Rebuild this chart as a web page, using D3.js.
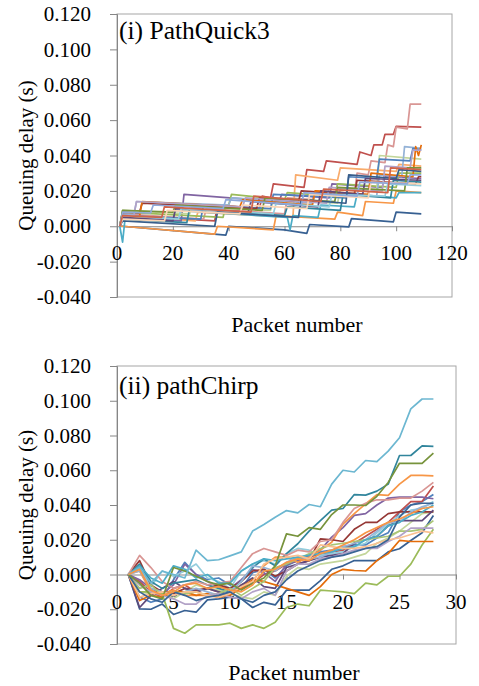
<!DOCTYPE html>
<html>
<head>
<meta charset="UTF-8">
<script src="https://cdn.jsdelivr.net/npm/d3@7"></script>
<style>
  html, body { margin: 0; padding: 0; background: #fff; }
  svg { display: block; }
  text { font-family: "Liberation Serif" !important; }
</style>
</head>
<body>
<svg id="chart" width="479" height="686"></svg>
<script>
// y axis, shared by both panels
const yTicks = [-0.04, -0.02, 0, 0.02, 0.04, 0.06, 0.08, 0.1, 0.12];
const yTickLabels = ["-0.040", "-0.020", "0.000", "0.020", "0.040", "0.060", "0.080", "0.100", "0.120"];

// (i) PathQuick3 : x ticks and series (vertices of each step line)
const pqXTicks = [0, 20, 40, 60, 80, 100, 120];
const pqColors = ["#376092", "#C0504D", "#D99694", "#F9AB6B", "#F79646", "#4BACC6", "#8064A2", "#9BBB59",
                  "#C3D69B", "#95B3D7", "#4F81BD", "#953735", "#E46C0A", "#B2A2C7", "#31859C", "#5F497A",
                  "#77933C", "#93CDDD", "#385D8A", "#FCD5B5", "#8EA9DB", "#D16349"];
const pqSeries = [
  [[1,0],[2,0],[39,-0.005],[40,0],[60,-0.002],[68,-0.004],[69,0.001],[83,-0.0004],[84,0.0043],[99,0.0025],[100,0.008],[109,0.007]],
  [[1,0],[2,0.006],[35,0.003],[36,0.012],[51,0.010],[52,0.017],[55,0.016],[56,0.024],[67,0.022],[68,0.032],[74,0.031],[75,0.037],[86,0.035],[87,0.042],[91,0.040],[92,0.046],[95,0.046],[96,0.052],[99,0.052],[100,0.0565],[109,0.056]],
  [[1,0],[2,0.007],[31,0.004],[32,0.010],[60,0.007],[61,0.016],[70,0.015],[71,0.020],[85,0.018],[86,0.030],[90,0.029],[91,0.037],[96,0.036],[97,0.046],[99,0.045],[100,0.056],[104,0.055],[105,0.069],[109,0.069]],
  [[1,0],[2,0.006],[28,0.003],[29,0.008],[63,0.005],[64,0.029],[79,0.026],[80,0.033],[100,0.031],[101,0.035],[109,0.034]],
  [[1,0],[2,0],[35,-0.0045],[36,0],[56,-0.002],[57,0.006],[78,0.004],[79,0.008],[88,0.006],[89,0.014],[99,0.013],[100,0.020],[109,0.019]],
  [[1,0],[2,-0.009],[3,0.006],[20,0.004],[21,0.009],[61,0.005],[62,-0.002],[63,0.006],[72,0.005],[73,0.012],[85,0.011],[86,0.018],[100,0.016],[101,0.019],[109,0.019]],
  [[1,0],[2,0.005],[23,0.003],[24,0.018],[58,0.014],[59,0.018],[76,0.016],[77,0.024],[95,0.022],[96,0.028],[109,0.027]],
  [[1,0],[2,0.008],[38,0.005],[39,0.012],[40,0.012],[41,0.018],[60,0.015],[61,0.019],[78,0.017],[79,0.024],[100,0.022],[101,0.030],[109,0.030]],
  [[1,0],[2,0.009],[26,0.007],[27,0.011],[55,0.009],[56,0.015],[79,0.013],[80,0.021],[93,0.020],[94,0.040],[109,0.038]],
  [[1,0],[2,0.007],[6,0.0065],[7,0.014],[40,0.012],[41,0.016],[70,0.013],[71,0.019],[93,0.017],[94,0.029],[102,0.028],[103,0.045],[109,0.044]],
  [[1,0],[2,0.006],[30,0.004],[31,0.012],[55,0.010],[56,0.018],[82,0.016],[83,0.028],[93,0.027],[94,0.038],[105,0.037],[106,0.044],[109,0.043]],
  [[1,0],[2,0.008],[8,0.0075],[9,0.013],[50,0.010],[51,0.016],[65,0.014],[66,0.020],[85,0.018],[86,0.026],[107,0.024],[108,0.028],[109,0.028]],
  [[1,0],[2,0.005],[8,0.005],[9,0.014],[44,0.011],[45,0.015],[70,0.012],[71,0.020],[90,0.018],[91,0.030],[106,0.028],[107,0.045],[108,0.040],[109,0.046]],
  [[1,0],[2,0.006],[6,0.006],[7,0.014],[45,0.011],[46,0.016],[75,0.013],[76,0.022],[95,0.020],[96,0.034],[105,0.033],[106,0.043],[109,0.043]],
  [[1,0],[2,0.004],[25,0.002],[26,0.010],[60,0.006],[61,0.011],[80,0.009],[81,0.018],[98,0.016],[99,0.026],[109,0.025]],
  [[1,0],[2,0.005],[20,0.003],[21,0.010],[47,0.008],[48,0.014],[72,0.011],[73,0.020],[88,0.018],[89,0.027],[109,0.026]],
  [[1,0],[2,0.009],[20,0.008],[21,0.012],[52,0.009],[53,0.016],[78,0.014],[79,0.022],[103,0.020],[104,0.033],[109,0.033]],
  [[1,0],[2,0.006],[22,0.004],[23,0.010],[56,0.007],[57,0.013],[76,0.011],[77,0.018],[96,0.017],[97,0.024],[109,0.023]],
  [[1,0],[2,0.003],[35,0.000],[36,0.008],[65,0.005],[66,0.015],[82,0.013],[83,0.029],[100,0.027],[101,0.032],[109,0.031]],
  [[1,0],[2,0.004],[17,0.003],[18,0.009],[44,0.007],[45,0.012],[68,0.010],[69,0.018],[90,0.016],[91,0.025],[109,0.024]],
  [[1,0],[2,0.008],[12,0.0075],[13,0.012],[38,0.010],[39,0.015],[66,0.012],[67,0.019],[86,0.017],[87,0.025],[104,0.024],[105,0.029],[109,0.029]],
  [[1,0],[2,0.006],[16,0.005],[17,0.011],[48,0.008],[49,0.017],[73,0.014],[74,0.021],[97,0.019],[98,0.033],[109,0.032]]
];

// (ii) pathChirp : x ticks, packet numbers and one delay value per packet
const pcXTicks = [0, 5, 10, 15, 20, 25, 30];
const pcPackets = [1,2,3,4,5,6,7,8,9,10,11,12,13,14,15,16,17,18,19,20,21,22,23,24,25,26,27,28];
const pcColors = ["#4F81BD", "#C0504D", "#C3D69B", "#8064A2", "#93CDDD", "#F79646", "#376092", "#953735",
                  "#9BBB59", "#5F497A", "#31859C", "#E46C0A", "#95B3D7", "#D99694", "#A9C574", "#B2A2C7",
                  "#4BACC6", "#FAC090", "#3A6595", "#77933C", "#6CB7D1", "#F79646"];
const pcSeries = [
  [0,-0.013,-0.016,-0.014,-0.003,0.007,0.000,-0.003,-0.002,-0.006,-0.008,0.001,0.003,-0.002,0.005,0.008,0.010,0.013,0.014,0.016,0.017,0.017,0.021,0.024,0.036,0.040,0.042,0.046],
  [0,-0.004,-0.010,-0.013,-0.008,-0.006,-0.010,-0.008,-0.010,-0.011,-0.008,-0.005,0.000,0.002,0.006,0.008,0.010,0.012,0.013,0.014,0.018,0.022,0.026,0.030,0.036,0.042,0.042,0.051],
  [0,-0.010,-0.011,-0.010,-0.014,-0.010,-0.006,-0.008,-0.009,-0.011,-0.013,-0.014,-0.010,-0.012,-0.001,0.004,0.003,0.006,0.007,0.008,0.010,0.012,0.018,0.021,0.025,0.030,0.035,0.036],
  [0,-0.003,-0.008,-0.011,-0.006,0.006,0.000,-0.004,-0.007,-0.008,-0.003,0.003,0.001,-0.004,0.006,0.008,0.011,0.014,0.0215,0.027,0.034,0.035,0.040,0.044,0.0445,0.0445,0.0445,0.0436],
  [0,0.004,-0.007,0.002,-0.001,0.002,0.006,-0.002,-0.004,-0.008,0.002,0.006,0.008,0.006,0.012,0.015,0.014,0.011,0.012,0.013,0.016,0.018,0.024,0.029,0.034,0.037,0.038,0.042],
  [0,0.002,-0.010,-0.011,-0.009,-0.012,-0.012,-0.012,-0.013,-0.010,-0.006,-0.004,0.005,0.010,0.010,0.007,0.010,0.014,0.0186,0.029,0.035,0.0407,0.046,0.0455,0.052,0.057,0.057,0.0568],
  [0,-0.0198,-0.020,-0.017,-0.023,-0.0207,-0.0217,-0.0146,-0.014,-0.013,-0.014,-0.019,-0.016,-0.0175,-0.009,-0.009,-0.009,-0.0035,0.003,0.005,0.008,0.008,0.008,0.013,0.0148,0.0196,0.024,0.034],
  [0,0.008,-0.006,-0.010,-0.011,-0.008,-0.009,-0.008,-0.006,-0.008,-0.004,0.002,0.003,-0.001,0.002,0.006,0.008,0.0205,0.020,0.019,0.026,0.030,0.030,0.035,0.036,0.036,0.036,0.036],
  [0,-0.010,-0.010,-0.011,-0.031,-0.0338,-0.029,-0.029,-0.029,-0.028,-0.031,-0.029,-0.031,-0.0275,-0.019,-0.017,-0.018,-0.009,-0.0095,-0.010,-0.011,-0.005,-0.006,-0.001,-0.001,0.006,0.017,0.026],
  [0,-0.019,-0.012,-0.008,-0.004,-0.008,-0.010,-0.008,-0.010,-0.012,-0.006,-0.002,-0.007,-0.008,0.004,0.006,0.008,0.010,0.011,0.012,0.018,0.020,0.022,0.028,0.031,0.031,0.031,0.037],
  [0,0.006,-0.004,-0.008,-0.005,-0.004,-0.003,-0.006,-0.008,-0.010,-0.004,0.004,0.009,0.005,0.012,0.0177,0.025,0.031,0.037,0.038,0.046,0.0457,0.048,0.052,0.0685,0.0685,0.074,0.0737],
  [0,-0.015,-0.012,-0.013,-0.010,-0.010,-0.012,-0.011,-0.013,-0.012,-0.008,-0.003,-0.004,-0.006,-0.008,-0.010,-0.012,-0.007,0.000,0.003,0.0023,0.002,0.008,0.012,0.0196,0.019,0.019,0.019],
  [0,0.002,-0.008,-0.010,-0.012,-0.010,-0.008,-0.010,-0.012,-0.010,-0.004,0.005,0.004,0.002,0.007,0.010,0.009,0.010,0.013,0.016,0.018,0.020,0.025,0.030,0.030,0.036,0.039,0.041],
  [0,0.011,0.004,-0.004,-0.008,-0.006,-0.004,-0.006,-0.005,-0.004,0.004,0.012,0.015,0.013,0.011,0.014,0.013,0.019,0.020,0.030,0.038,0.041,0.043,0.043,0.044,0.044,0.048,0.053],
  [0,-0.008,-0.006,-0.012,-0.010,-0.011,-0.010,-0.012,-0.011,-0.008,-0.012,-0.008,-0.004,0.004,0.006,0.009,0.012,0.015,0.017,0.018,0.019,0.020,0.021,0.022,0.025,0.025,0.026,0.031],
  [0,-0.006,-0.010,-0.012,-0.014,-0.017,-0.017,-0.012,-0.011,-0.013,-0.014,-0.010,-0.008,-0.012,0.002,0.006,0.006,0.009,0.010,0.012,0.014,0.015,0.015,0.019,0.022,0.0267,0.0267,0.0267],
  [0,0.005,-0.002,-0.005,0.005,0.003,-0.002,0.000,-0.005,-0.005,0.002,0.006,0.009,0.008,0.009,0.010,0.011,0.012,0.013,0.015,0.016,0.020,0.022,0.028,0.030,0.034,0.036,0.040],
  [0,-0.013,-0.011,-0.010,-0.012,-0.010,-0.010,-0.012,-0.013,-0.011,-0.007,-0.004,0.006,0.009,0.010,0.011,0.009,0.017,0.016,0.015,0.015,0.016,0.018,0.020,0.021,0.023,0.025,0.024],
  [0,-0.010,-0.014,-0.016,-0.010,-0.012,-0.015,-0.013,-0.012,-0.010,-0.014,-0.016,-0.012,-0.010,-0.003,0.002,0.005,0.008,0.010,0.011,0.013,0.015,0.016,0.020,0.033,0.040,0.041,0.041],
  [0,-0.005,-0.012,-0.014,0.004,0.002,-0.001,-0.004,-0.006,-0.005,-0.009,-0.005,-0.002,0.005,0.0234,0.022,0.027,0.026,0.0345,0.040,0.040,0.0397,0.045,0.053,0.064,0.064,0.064,0.0698],
  [0,0.004,-0.005,0.002,0.000,-0.002,0.014,0.008,0.0085,0.0107,0.013,0.025,0.0288,0.033,0.0368,0.0355,0.0403,0.039,0.052,0.060,0.059,0.0656,0.065,0.071,0.0787,0.0953,0.101,0.101],
  [0,0.003,-0.009,-0.012,-0.010,-0.006,-0.005,-0.008,-0.007,-0.009,-0.010,-0.006,0.002,0.003,0.007,0.009,0.008,0.012,0.014,0.017,0.020,0.024,0.027,0.030,0.032,0.035,0.038,0.039]
];

var serifFont = "Liberation Serif";

var svg = d3.select("#chart");

function panel(opt) {
  var x = d3.scaleLinear().domain(opt.xDomain).range([opt.left, opt.right]),
      y = d3.scaleLinear().domain([-0.04, 0.12]).range([opt.bottom, opt.top]);
  var g = svg.append("g");

  // plot area border
  g.append("rect")
    .attr("x", opt.left).attr("y", opt.top)
    .attr("width", opt.right - opt.left).attr("height", opt.bottom - opt.top)
    .attr("fill", "none").attr("stroke", "#a6a6a6").attr("stroke-width", 1);

  // y axis
  var yAxis = g.append("g")
    .attr("transform", `translate(${opt.left},0)`)
    .call(d3.axisLeft(y).tickValues(yTicks).tickSize(7).tickFormat(""));
  yAxis.select(".domain").attr("stroke", "#868686");
  yAxis.selectAll(".tick line").attr("stroke", "#868686");

  g.selectAll(".ylab")
    .data(yTicks)
    .enter().append("text")
    .attr("x", opt.left - 26)
    .attr("y", d => y(d))
    .attr("dy", "0.34em")
    .attr("text-anchor", "end")
    .attr("font-family", serifFont)
    .attr("font-size", 21)
    .text((d, i) => yTickLabels[i]);

  // x axis sits on zero
  var xAxis = g.append("g")
    .attr("transform", `translate(0,${y(0)})`)
    .call(d3.axisBottom(x).tickValues(opt.xTicks).tickSize(5).tickSizeOuter(0).tickFormat(""));
  xAxis.select(".domain").attr("stroke", "#868686");
  xAxis.selectAll(".tick line").attr("stroke", "#868686");

  // x labels go under the lines, as in the original
  g.selectAll(".xlab")
    .data(opt.xTicks)
    .enter().append("text")
    .attr("x", d => x(d))
    .attr("y", y(0) + 27)
    .attr("dy", "0.34em")
    .attr("text-anchor", "middle")
    .attr("font-family", serifFont)
    .attr("font-size", 21)
    .text(d => d);

  var line = d3.line().x(d => x(d[0])).y(d => y(d[1]));

  g.selectAll(".serie")
    .data(opt.series)
    .enter().append("path")
    .attr("d", d => line(d))
    .attr("fill", "none")
    .attr("stroke", (d, i) => opt.colors[i % opt.colors.length])
    .attr("stroke-width", 1.7)
    .attr("stroke-linejoin", "round");

  g.append("text")
    .attr("x", opt.left + 2)
    .attr("y", opt.titleY)
    .attr("font-family", serifFont)
    .attr("font-size", 25.5)
    .text(opt.title);

  g.append("text")
    .attr("x", opt.xTitleX)
    .attr("y", opt.xTitleY)
    .attr("text-anchor", "middle")
    .attr("font-family", serifFont)
    .attr("font-size", 22)
    .text("Packet number");

  g.append("text")
    .attr("transform", `translate(33,${(opt.top + opt.bottom) / 2})rotate(-90)`)
    .attr("text-anchor", "middle")
    .attr("font-family", serifFont)
    .attr("font-size", 21)
    .text("Queuing delay (s)");
}

panel({
  left: 117, right: 452, top: 14, bottom: 297,
  xDomain: [0, 120], xTicks: pqXTicks,
  series: pqSeries, colors: pqColors,
  title: "(i) PathQuick3", titleY: 39,
  xTitleX: 297, xTitleY: 332
});

panel({
  left: 117, right: 456, top: 366, bottom: 644,
  xDomain: [0, 30], xTicks: pcXTicks,
  series: pcSeries.map(s => s.map((v, i) => [pcPackets[i], v])), colors: pcColors,
  title: "(ii) pathChirp", titleY: 394,
  xTitleX: 294, xTitleY: 680
});
</script>
</body>
</html>
